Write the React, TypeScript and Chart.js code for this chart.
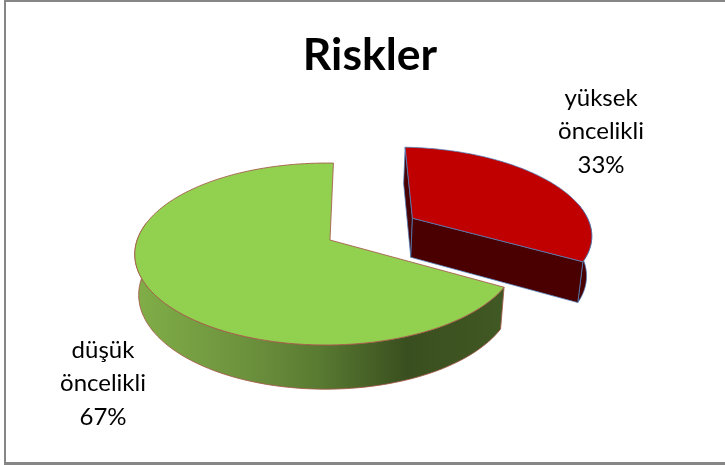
import React, { useEffect, useRef } from "react";
import { Chart, registerables } from "chart.js";

Chart.register(...registerables);

const titleText = "Riskler";
const categories = ["yüksek öncelikli", "düşük öncelikli"];
const values = [33, 67];
const explode = [0.525, 0];
const topColors = ["#c00000", "#92d050"];
const edgeColors = ["rgba(79,129,189,0.75)", "rgba(165,89,74,0.85)"];
const wallColor = "#4a0000";
const greenWallStops: [number, string][] = [
  [0, "#80ad47"],
  [0.3, "#6c913d"],
  [0.5, "#587a31"],
  [0.74, "#3a4f1f"],
  [1, "#405823"],
];
const labelAnchors = [
  { x: 601, y: 98 },
  { x: 103, y: 350 },
];

const CX = 330, CY = 240, A = 189, B = 88.8, P = 0.154, Q = 0.02, DEPTH = 40;
const LABEL_FONT = "24px Lato, Carlito, sans-serif";

type Pt = { x: number; y: number };
const project = (X: number, Y: number, lower = false): Pt => {
  const w = 1 - P * Y + Q * X;
  const sx = (A * X) / w;
  const sy = (B * Y) / w;
  if (!lower) return { x: CX + sx, y: CY + sy };
  return { x: CX + sx * 0.98, y: CY + sy * 1.04 + DEPTH };
};

const poly = (ctx: CanvasRenderingContext2D, pts: Pt[]) => {
  ctx.beginPath();
  pts.forEach((p, i) => (i ? ctx.lineTo(p.x, p.y) : ctx.moveTo(p.x, p.y)));
  ctx.closePath();
};

const perspectivePie = {
  id: "perspectivePie",
  beforeDatasetDraw(chart: any) {
    const ctx: CanvasRenderingContext2D = chart.ctx;
    const arcs = chart.getDatasetMeta(0).data;
    ctx.save();
    ctx.lineJoin = "round";
    ctx.lineWidth = 1;
    [1, 0].forEach((i) => {
      const { startAngle, endAngle } = arcs[i].getProps(["startAngle", "endAngle"], true);
      const mid = (startAngle + endAngle) / 2;
      const ox = Math.cos(mid) * explode[i];
      const oy = Math.sin(mid) * explode[i];
      const steps = 120;
      const angles: number[] = [];
      for (let k = 0; k <= steps; k++) angles.push(startAngle + ((endAngle - startAngle) * k) / steps);
      const rim = (a: number, lower = false) => project(ox + Math.cos(a), oy + Math.sin(a), lower);
      const apex = (lower = false) => project(ox, oy, lower);

      // outer wall: only the part that faces the viewer
      const front = angles.filter((a) => Math.sin(a) > -0.2);
      const wallPts = [...front.map((a) => rim(a)), ...front.slice().reverse().map((a) => rim(a, true))];
      poly(ctx, wallPts);
      if (i === 1) {
        const g = ctx.createLinearGradient(140, 0, 500, 0);
        greenWallStops.forEach(([s, c]) => g.addColorStop(s, c));
        ctx.fillStyle = g;
      } else {
        ctx.fillStyle = wallColor;
      }
      ctx.fill();
      ctx.strokeStyle = edgeColors[i];
      ctx.stroke();

      // cut faces of the pulled-out slice
      if (i === 0) {
        [startAngle, endAngle].forEach((a) => {
          poly(ctx, [apex(), rim(a), rim(a, true), apex(true)]);
          ctx.fillStyle = wallColor;
          ctx.fill();
          ctx.strokeStyle = edgeColors[i];
          ctx.stroke();
        });
      }

      // top face
      poly(ctx, [apex(), ...angles.map((a) => rim(a))]);
      ctx.fillStyle = topColors[i];
      ctx.fill();
      ctx.strokeStyle = edgeColors[i];
      ctx.stroke();
    });

    // data labels
    const total = values.reduce((s, v) => s + v, 0);
    ctx.fillStyle = "#000";
    ctx.font = LABEL_FONT;
    ctx.textAlign = "center";
    ctx.textBaseline = "middle";
    categories.forEach((c, i) => {
      const lines = [...c.split(" "), `${Math.round((values[i] / total) * 100)}%`];
      lines.forEach((t, j) => ctx.fillText(t, labelAnchors[i].x, labelAnchors[i].y + j * 33.5));
    });

    // frame
    ctx.fillStyle = "#868686";
    ctx.fillRect(4, 0, 721, 2);
    ctx.fillRect(4, 0, 2, 465);
    ctx.fillRect(4, 462, 721, 3);
    ctx.restore();
    return false;
  },
};

export default function App() {
  const ref = useRef<HTMLCanvasElement>(null);
  useEffect(() => {
    const chart = new Chart(ref.current!, {
      type: "pie",
      data: {
        labels: categories,
        datasets: [{ data: values, backgroundColor: topColors, borderColor: edgeColors }],
      },
      options: {
        responsive: false,
        animation: false,
        rotation: 1.2,
        layout: { padding: { left: 15, top: 21 } },
        plugins: {
          legend: { display: false },
          tooltip: { enabled: false },
          title: {
            display: true,
            text: titleText,
            color: "#000",
            font: { family: "Lato, Carlito, sans-serif", size: 44.5, weight: "bold" },
            padding: { top: 8, bottom: 0 },
          },
        },
      },
      plugins: [perspectivePie],
    } as any);
    return () => chart.destroy();
  }, []);
  return (
    <canvas
      ref={ref}
      width={725}
      height={465}
      style={{ position: "absolute", left: 0, top: 0, display: "block", background: "#fff" }}
    />
  );
}
